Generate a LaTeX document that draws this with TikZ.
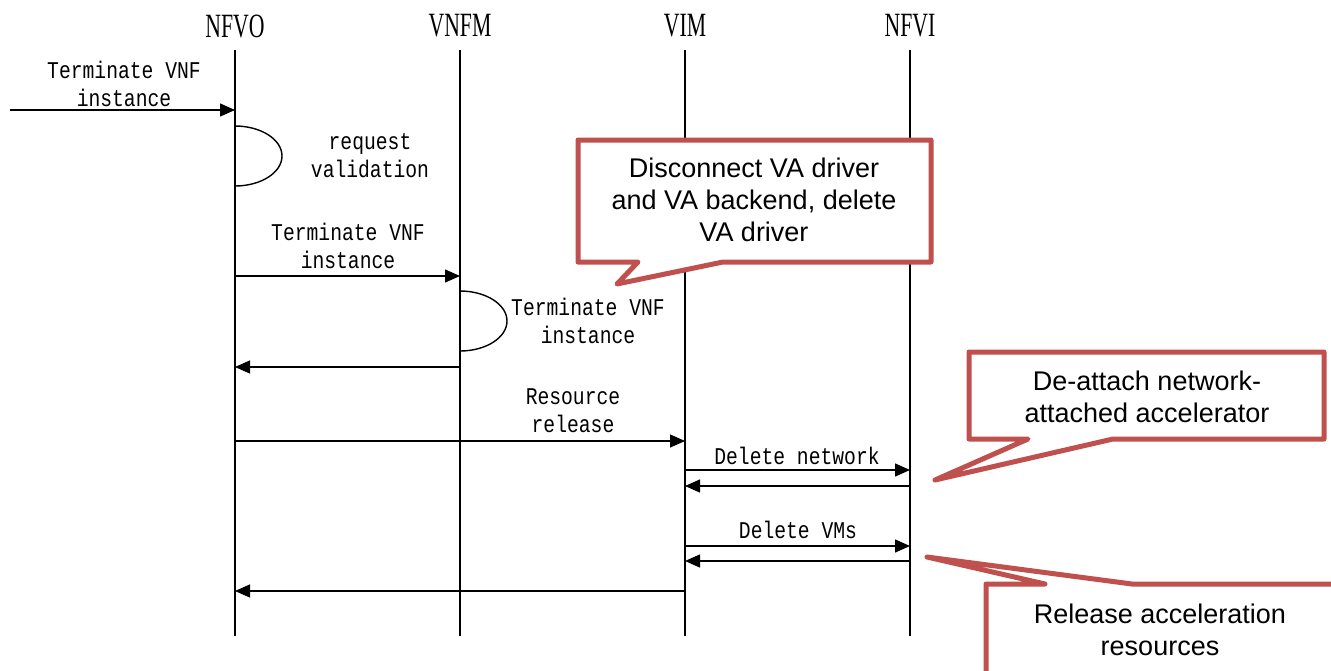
\documentclass[tikz,border=0pt]{standalone}
\usepackage{fontspec}
\setmainfont{Liberation Sans}
\newfontfamily\headfont[FakeStretch=0.64]{Liberation Serif}
\newfontfamily\msgfont[FakeStretch=0.82]{Liberation Mono}
\usetikzlibrary{arrows.meta}
\definecolor{noteRed}{HTML}{C0504D}
\begin{document}
\begin{tikzpicture}[x=1pt,y=1pt,
  life/.style={line width=1.4pt},
  msg/.style={line width=1.4pt,-{Triangle[length=15pt,width=13pt]}},
  lbl/.style={font=\fontsize{24}{28}\selectfont\msgfont,align=center,inner sep=0pt},
  head/.style={font=\fontsize{34}{34}\selectfont\headfont,inner sep=0pt},
  note/.style={draw=noteRed,line width=5pt,line join=round,fill=white},
  notetxt/.style={font=\fontsize{27}{32}\selectfont,align=center,inner sep=0pt}]
\useasboundingbox (0,0) rectangle (1331,-670);
\clip (0,0) rectangle (1331,-670);
\foreach \n/\x/\t in {nfvo/235/NFVO,vnfm/460/VNFM,vim/685/VIM,nfvi/910/NFVI}{
  \node [head] (\n) at (\x,-26) {\t};
  \coordinate (\n-top) at (\x,-50);
  \coordinate (\n-bot) at (\x,-636);
  \draw [life] (\n-top) -- (\n-bot);
}
\coordinate (ext) at (10,-110);
\draw [msg] (ext) -- (nfvo |- ext);
\node [lbl] (l1) at (124,-84) {Terminate VNF\\instance};
\draw [life] (nfvo |- 0,-126) arc (90:-90:47 and 30);
\node [lbl] (l2) at (370,-156) {request\\validation};
\draw [msg] (nfvo |- 0,-276) -- (vnfm |- 0,-276);
\node [lbl] (l3) at (348,-246) {Terminate VNF\\instance};
\draw [life] (vnfm |- 0,-291) arc (90:-90:47 and 30);
\node [lbl] (l4) at (588,-321) {Terminate VNF\\instance};
\draw [msg] (vnfm |- 0,-367) -- (nfvo |- 0,-367);
\draw [msg] (nfvo |- 0,-441) -- (vim |- 0,-441);
\node [lbl] (l5) at (573,-411) {Resource\\release};
\draw [msg] (vim |- 0,-470) -- (nfvi |- 0,-470);
\node [lbl] (l6) at (797,-456) {Delete network};
\draw [msg] (nfvi |- 0,-486) -- (vim |- 0,-486);
\draw [msg] (vim |- 0,-546) -- (nfvi |- 0,-546);
\node [lbl] (l7) at (798,-530) {Delete VMs};
\draw [msg] (nfvi |- 0,-561) -- (vim |- 0,-561);
\draw [msg] (vim |- 0,-591) -- (nfvo |- 0,-591);
% callouts
\draw [note] (578,-140) -- (931,-140) -- (931,-262) -- (723,-262) -- (617,-284) -- (638,-262) -- (578,-262) -- cycle;
\node [notetxt] (c1) at (754,-200) {Disconnect VA driver\\and VA backend, delete\\VA driver};
\draw [note] (969,-352) -- (1324,-352) -- (1324,-439) -- (1113,-439) -- (935,-480) -- (1028,-439) -- (969,-439) -- cycle;
\node [notetxt] (c2) at (1147,-397) {De-attach network-\\attached accelerator};
\draw [note] (986,-700) -- (986,-584) -- (1045,-584) -- (927,-557) -- (1132,-584) -- (1345,-584) -- (1345,-700) -- cycle;
\node [notetxt] (c3) at (1160,-630) {Release acceleration\\resources};
\end{tikzpicture}
\end{document}
